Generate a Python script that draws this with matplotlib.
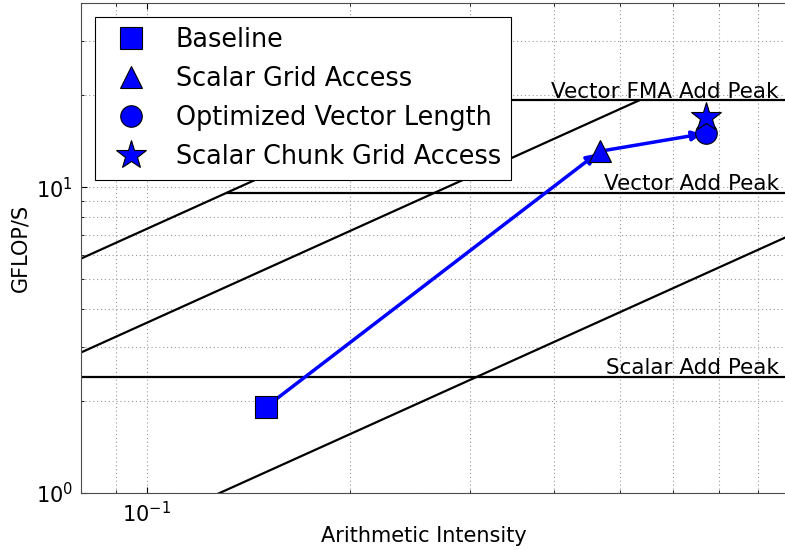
import numpy as np
import matplotlib
matplotlib.use("Agg")
import matplotlib.pyplot as plt
from matplotlib.ticker import NullFormatter

# %% data
peak_names = ["Scalar Add Peak", "Vector Add Peak", "Vector FMA Add Peak"]
peak_gflops = [2.4, 9.6, 19.2]
bandwidths = [73.0, 36.0, 7.8]  # GB/s roofs

run_names = ["Baseline", "Scalar Grid Access", "Optimized Vector Length", "Scalar Chunk Grid Access"]
run_ai = [0.150, 0.467, 0.670, 0.670]
run_gflops = [1.91, 13.1, 15.0, 17.0]
run_markers = ["s", "^", "o", "*"]
run_sizes = [15.5, 15.5, 15.5, 22]

x_min, x_max = 0.08, 0.9
y_min, y_max = 1.0, 40.0

# %% figure
fig = plt.figure(figsize=(7.85, 5.5), dpi=100)
ax = fig.add_axes([81 / 785, 57 / 550, (792.7 - 81) / 785, 490 / 550])
ax.set_xscale("log")
ax.set_yscale("log")
ax.set_xlim(x_min, x_max)
ax.set_ylim(y_min, y_max)

top_bw = max(bandwidths)
top_peak = max(peak_gflops)

# bandwidth roofs, up to the top compute peak
for bw in bandwidths:
    x_end = min(top_peak / bw, x_max)
    ax.plot([x_min, x_end], [bw * x_min, bw * x_end], color="k", lw=1.6, zorder=2)

# compute roofs, starting where the top bandwidth roof meets them
for name, pk in zip(peak_names, peak_gflops):
    x_start = max(pk / top_bw, x_min)
    ax.plot([x_start, x_max], [pk, pk], color="k", lw=1.6, zorder=2)
    ax.annotate(name, xy=(0.859, pk), xytext=(0, 2), textcoords="offset points",
                ha="right", va="baseline", fontsize=15.5)

# runs
for i in range(len(run_ai) - 1):
    ax.annotate("", xy=(run_ai[i + 1], run_gflops[i + 1]), xytext=(run_ai[i], run_gflops[i]),
                arrowprops=dict(arrowstyle="-|>", color="b", lw=2.5, mutation_scale=14,
                                shrinkA=0, shrinkB=3), zorder=3)
for i in range(len(run_ai)):
    ax.plot(run_ai[i], run_gflops[i], ls="none", marker=run_markers[i], ms=run_sizes[i],
            color="b", mec="k", mew=0.8, label=run_names[i], zorder=4 + i)

ax.grid(True, which="both", color="0.6", ls=(0, (1, 2.5)), lw=0.8)
ax.xaxis.set_minor_formatter(NullFormatter())
ax.yaxis.set_minor_formatter(NullFormatter())
ax.tick_params(which="both", direction="in", top=True, right=True, labelsize=15)
ax.tick_params(which="major", length=4, pad=6)
ax.tick_params(which="minor", length=2)
for sp in ax.spines.values():
    sp.set_color("0.3")

ax.set_xlabel("Arithmetic Intensity", fontsize=15)
ax.xaxis.set_label_coords((424 - 81) / (792.7 - 81), -0.068)
ax.set_ylabel("GFLOP/S", fontsize=15)

leg = ax.legend(loc="upper left", numpoints=1, fontsize=18.4, fancybox=False,
                edgecolor="k", framealpha=1, handlelength=2, handletextpad=0.75,
                borderaxespad=0.55, labelspacing=0.5)
leg.get_frame().set_linewidth(0.8)

fig.savefig("out.png", dpi=100)
